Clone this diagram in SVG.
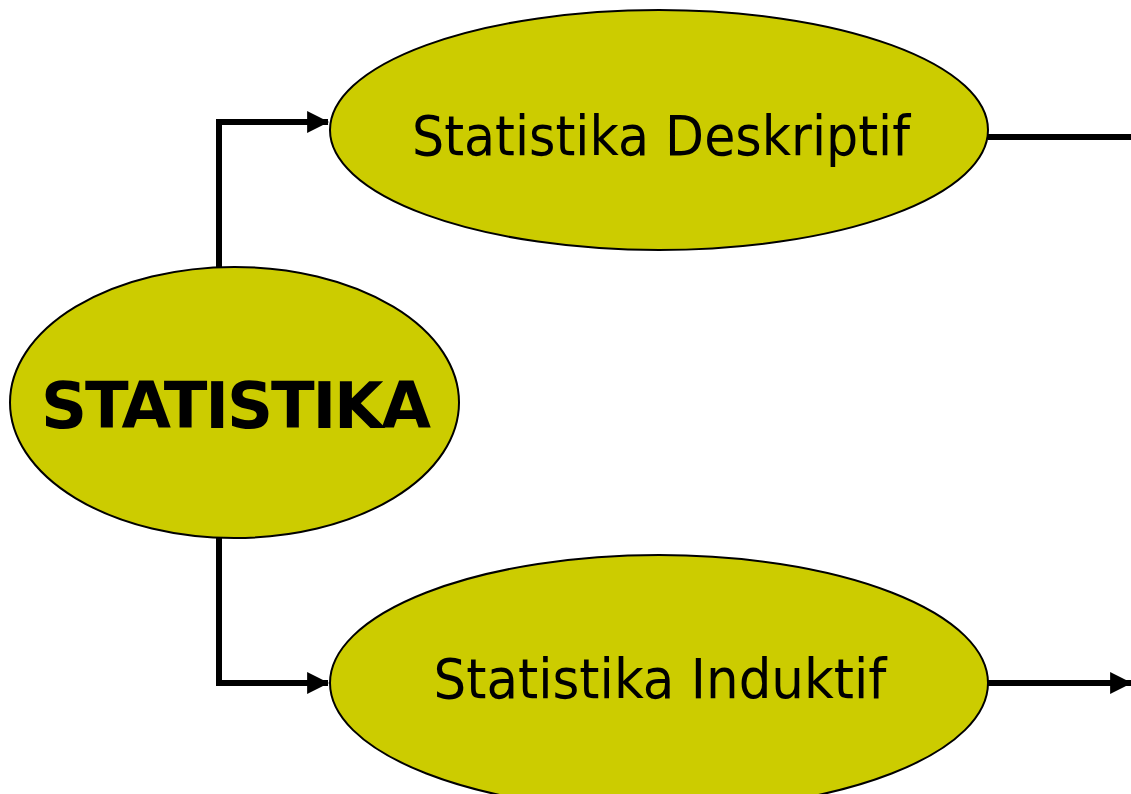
<svg xmlns="http://www.w3.org/2000/svg" width="1131" height="794" viewBox="0 0 1131 794">
<style>
.node{fill:#CCCC00;stroke:#000;stroke-width:2}
.lbl{font-family:"DejaVu Sans","Liberation Sans",sans-serif;fill:#000}
.conn{fill:none;stroke:#000;stroke-width:6}
</style>
<defs>
<marker id="ah" markerUnits="userSpaceOnUse" viewBox="0 0 20 20" markerWidth="22" markerHeight="22" refX="19" refY="10" orient="auto">
<path d="M0,0 L20,10 L0,20 Z" fill="#000"/>
</marker>
</defs>
<rect width="1131" height="794" fill="#fff"/>
<g id="connectors">
<path class="conn" d="M219,268 V122 H328" marker-end="url(#ah)"/>
<path class="conn" d="M219,537 V683 H328" marker-end="url(#ah)"/>
<path class="conn" d="M988,137 H1131"/>
<path class="conn" d="M988,683 H1131" marker-end="url(#ah)"/>
</g>
<g id="statistika">
<ellipse class="node" cx="234.5" cy="402.5" rx="224.5" ry="135.5"/>
<text class="lbl" x="236" y="428" font-size="64" font-weight="bold" text-anchor="middle" textLength="390" lengthAdjust="spacing">STATISTIKA</text>
</g>
<g id="deskriptif">
<ellipse class="node" cx="659" cy="130" rx="329" ry="120"/>
<text class="lbl" x="661" y="155" font-size="56" text-anchor="middle" textLength="498" lengthAdjust="spacingAndGlyphs">Statistika Deskriptif</text>
</g>
<g id="induktif">
<ellipse class="node" cx="659" cy="683" rx="329" ry="128"/>
<text class="lbl" x="660" y="698" font-size="56" text-anchor="middle" textLength="453" lengthAdjust="spacingAndGlyphs">Statistika Induktif</text>
</g>
</svg>
